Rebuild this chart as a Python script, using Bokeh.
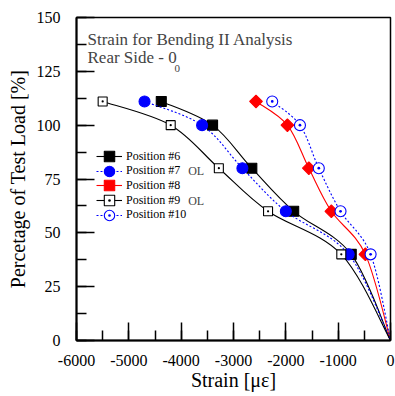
import numpy as np
from bokeh.plotting import figure
from bokeh.models import (Range1d, SingleIntervalTicker, Legend, LegendItem, Label,
                          PrintfTickFormatter)
from bokeh.embed import file_html
from bokeh.resources import INLINE

# ---- data ----
load = [111, 100, 80, 60, 40, 0]
pos6 = [-4380, -3400, -2650, -1850, -750, 0]
pos7 = [-4700, -3600, -2830, -2000, -800, 0]
pos8 = [-2570, -1970, -1560, -1130, -480, 0]
pos9 = [-5500, -4200, -3280, -2340, -940, 0]
pos10 = [-2260, -1730, -1370, -955, -380, 0]

names = ["Position #6", "Position #7", "Position #8", "Position #9", "Position #10"]
series = [pos6, pos7, pos8, pos9, pos10]

FONT = "Liberation Serif"

p = figure(width=395, height=396, x_range=Range1d(-6000, 0), y_range=Range1d(0, 150),
           output_backend="svg", toolbar_location=None,
           min_border_left=76, min_border_right=5, min_border_top=17, min_border_bottom=56)
p.xgrid.visible = False
p.ygrid.visible = False
p.outline_line_color = "black"
p.outline_line_width = 1.5
p.background_fill_color = "white"
p.border_fill_color = "white"

p.xaxis.ticker = SingleIntervalTicker(interval=1000, num_minor_ticks=2)
p.yaxis.ticker = SingleIntervalTicker(interval=25, num_minor_ticks=2)
p.xaxis.formatter = PrintfTickFormatter(format="%d")
p.yaxis.formatter = PrintfTickFormatter(format="%d")
for ax in (p.xaxis[0], p.yaxis[0]):
    ax.axis_line_width = 2
    ax.axis_line_color = "black"
    ax.major_tick_in = 18
    ax.major_tick_out = 0
    ax.minor_tick_in = 10
    ax.minor_tick_out = 0
    ax.major_tick_line_width = 1.5
    ax.minor_tick_line_width = 1.5
    ax.major_tick_line_color = "black"
    ax.minor_tick_line_color = "black"
    ax.major_label_text_font = FONT
    ax.major_label_text_font_size = "16px"
    ax.major_label_text_color = "black"
    ax.axis_label_text_font = FONT
    ax.axis_label_text_font_size = "20px"
    ax.axis_label_text_font_style = "normal"
    ax.axis_label_text_color = "black"
p.xaxis.major_label_standoff = 14
p.xaxis.axis_label_standoff = 0
p.yaxis.major_label_standoff = 16
p.yaxis.axis_label_standoff = 5
p.xaxis.axis_label = "Strain [με]"
p.yaxis.axis_label = "Percetage of Test Load [%]"


def bez(xs, ys):
    P = np.column_stack([xs, ys]).astype(float)
    n = len(P)
    out = {k: [] for k in ("x0", "y0", "x1", "y1", "cx0", "cy0", "cx1", "cy1")}
    for i in range(n - 1):
        pm = P[max(i - 1, 0)]
        p0 = P[i]
        p1 = P[i + 1]
        p2 = P[min(i + 2, n - 1)]
        c0 = p0 + (p1 - pm) / 6.0
        c1 = p1 - (p2 - p0) / 6.0
        out["x0"].append(p0[0]); out["y0"].append(p0[1])
        out["x1"].append(p1[0]); out["y1"].append(p1[1])
        out["cx0"].append(c0[0]); out["cy0"].append(c0[1])
        out["cx1"].append(c1[0]); out["cy1"].append(c1[1])
    return out


styles = [
    dict(lc="black", dash="solid", marker="square", size=10, fill="black", mlc="black", angle=0.0),
    dict(lc="blue", dash="2 2", marker="circle", size=11, fill="blue", mlc="blue", angle=0.0),
    dict(lc="red", dash="solid", marker="square", size=9, fill="red", mlc="red", angle=np.pi / 4),
    dict(lc="black", dash="solid", marker="square_dot", size=9, fill="white", mlc="black", angle=0.0),
    dict(lc="blue", dash="2 2", marker="circle_dot", size=11, fill="white", mlc="blue", angle=0.0),
]

# legend layout (screen px, relative to frame bottom-left)
LEG_X = 20
LEG_FIRST_CENTER = 184   # frame-relative y of first row centre
LEG_STEP = 14.7
GLYPH = 26

for k, (name, xs, st) in enumerate(zip(names, series, styles)):
    b = bez(xs, load)
    br = p.bezier(x0=b["x0"], y0=b["y0"], x1=b["x1"], y1=b["y1"],
                  cx0=b["cx0"], cy0=b["cy0"], cx1=b["cx1"], cy1=b["cy1"],
                  line_color=st["lc"], line_width=1.1, line_dash=st["dash"])
    sr = p.scatter(x=xs[:-1], y=load[:-1], marker=st["marker"], size=st["size"],
                   fill_color=st["fill"], line_color=st["mlc"], line_width=1.1,
                   angle=st["angle"])
    cy = LEG_FIRST_CENTER - k * LEG_STEP
    leg = Legend(items=[LegendItem(label=name, renderers=[br, sr])],
                 location=(LEG_X, cy - GLYPH / 2), orientation="vertical",
                 glyph_width=26, glyph_height=GLYPH, label_height=GLYPH, spacing=0,
                 label_standoff=4, padding=0, margin=0,
                 border_line_alpha=0, background_fill_alpha=0,
                 label_text_font=FONT, label_text_font_size="12px",
                 label_text_color="black")
    p.add_layout(leg, "center")

for k in (1, 3):
    p.add_layout(Label(x=111.7, y=LEG_FIRST_CENTER - k * LEG_STEP, x_units="screen",
                       y_units="screen", text="OL",
                       text_font=FONT, text_font_size="12px", text_baseline="middle"))

p.add_layout(Label(x=11, y=301, x_units="screen", y_units="screen",
                   text="Strain for Bending II Analysis",
                   text_font=FONT, text_font_size="17px", text_baseline="alphabetic"))
p.add_layout(Label(x=11, y=282.7, x_units="screen", y_units="screen",
                   text="Rear Side - 0",
                   text_font=FONT, text_font_size="17px", text_baseline="alphabetic"))
p.add_layout(Label(x=98, y=272, x_units="screen", y_units="screen",
                   text="0",
                   text_font=FONT, text_font_size="11px", text_baseline="alphabetic"))

open("out.html", "w").write(file_html(p, INLINE))
